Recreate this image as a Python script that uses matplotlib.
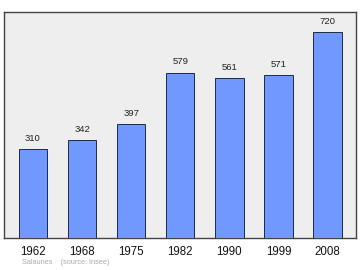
import matplotlib
matplotlib.use("Agg")
import matplotlib.pyplot as plt
import numpy as np

# ── Data ──────────────────────────────────────────────────────────────────────
years = ["1962", "1968", "1975", "1982", "1990", "1999", "2008"]
population = [310, 342, 397, 579, 561, 571, 720]

plt.rcParams["font.family"] = ["Liberation Sans", "DejaVu Sans"]

fig = plt.figure(figsize=(3.6, 2.7), dpi=100)
ax = fig.add_axes([4 / 360, 1 - 237.5 / 270, 352 / 360, 225.5 / 270])
ax.set_facecolor("#eeeeee")

x = np.arange(len(years))
bars = ax.bar(x, population, width=0.58, color="#7098fe",
              edgecolor="#1c2a4a", linewidth=0.7, zorder=3)
for bar, v in zip(bars, population):
    ax.text(bar.get_x() + bar.get_width() / 2, v + 22, str(v),
            ha="center", va="bottom", fontsize=6.8, color="#222222")

ax.set_xlim(-0.59, 6.58)
ax.set_ylim(0, 792)
ax.set_yticks([])
ax.set_xticks(x)
ax.set_xticklabels(years, fontsize=8.3, color="#111111")
ax.tick_params(axis="x", length=0, pad=6)
for s in ax.spines.values():
    s.set_color("#444444")
    s.set_linewidth(1.0)

fig.text(22 / 360, 1 - 262.5 / 270, "Salaunes    (source: Insee)",
         fontsize=5.3, color="#aaaaaa", va="center")

fig.savefig("out.png", dpi=100)
